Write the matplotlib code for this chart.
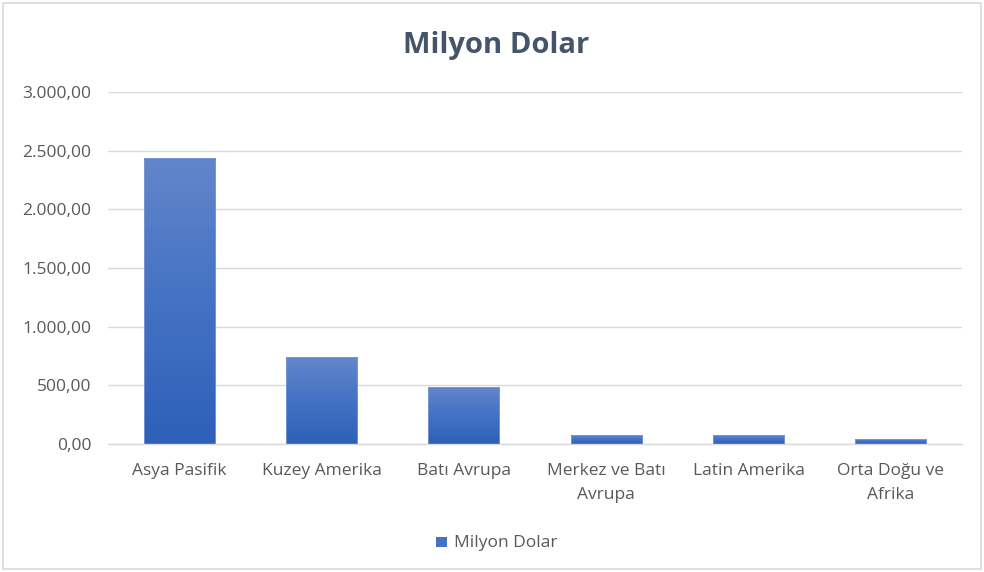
import numpy as np
import matplotlib.pyplot as plt
from matplotlib.colors import LinearSegmentedColormap
from matplotlib.patches import Rectangle

# --- Data ---
regions = ['Asya Pasifik', 'Kuzey Amerika', 'Batı Avrupa',
           'Merkez ve Batı\nAvrupa', 'Latin Amerika', 'Orta Doğu ve\nAfrika']
values = [2440, 740, 482, 78, 78, 45]
y_ticks = [0, 500, 1000, 1500, 2000, 2500, 3000]
y_tick_labels = ['0,00', '500,00', '1.000,00', '1.500,00', '2.000,00', '2.500,00', '3.000,00']

plt.rcParams['font.family'] = ['Open Sans', 'DejaVu Sans']

fig = plt.figure(figsize=(9.84, 5.72), dpi=100)
ax = fig.add_axes([0.1098, 0.2238, 0.8678, 0.6154])

# light frame around the whole chart area
fig.patches.append(Rectangle((0.003, 0.005), 0.994, 0.99, transform=fig.transFigure,
                             fill=False, edgecolor='#d9d9d9', linewidth=1.2))

x = np.arange(len(regions))
bars = ax.bar(x, values, width=0.5, color='none', edgecolor='#7d9ad6', linewidth=0.6, zorder=3)

# vertical gradient fill, lighter at the top
cmap = LinearSegmentedColormap.from_list('bar_grad', ['#2e60b9', '#4472c4', '#6386cb'])
grad = np.linspace(0, 1, 256).reshape(-1, 1)
for b in bars:
    x0, y0 = b.get_x(), b.get_y()
    w, h = b.get_width(), b.get_height()
    im = ax.imshow(grad, cmap=cmap, origin='lower', aspect='auto',
                   extent=(x0, x0 + w, y0, y0 + h), zorder=2)
    im.set_clip_path(b)

ax.set_xlim(-0.5, len(regions) - 0.5)
ax.set_ylim(0, 3000)
ax.set_yticks(y_ticks)
ax.set_yticklabels(y_tick_labels)
ax.set_xticks(x)
ax.set_xticklabels(regions, linespacing=1.65)

ax.grid(axis='y', color='#d9d9d9', linewidth=1, zorder=0)
ax.set_axisbelow(True)
for s in ['top', 'right', 'left']:
    ax.spines[s].set_visible(False)
ax.spines['bottom'].set_color('#d9d9d9')
ax.spines['bottom'].set_linewidth(1)
ax.tick_params(axis='both', length=0, labelsize=12.5, labelcolor='#595959')
ax.tick_params(axis='x', pad=14)
ax.tick_params(axis='y', pad=12)

fig.text(0.504, 0.920, 'Milyon Dolar', ha='center', va='center',
         fontsize=21, fontweight='bold', color='#44546a')

# legend
fig.patches.append(Rectangle((0.4435, 0.043), 0.0105, 0.018, transform=fig.transFigure,
                             facecolor='#4472c4', edgecolor='none'))
fig.text(0.461, 0.051, 'Milyon Dolar', ha='left', va='center', fontsize=12.5, color='#595959')

plt.savefig('out.png', dpi=100)
